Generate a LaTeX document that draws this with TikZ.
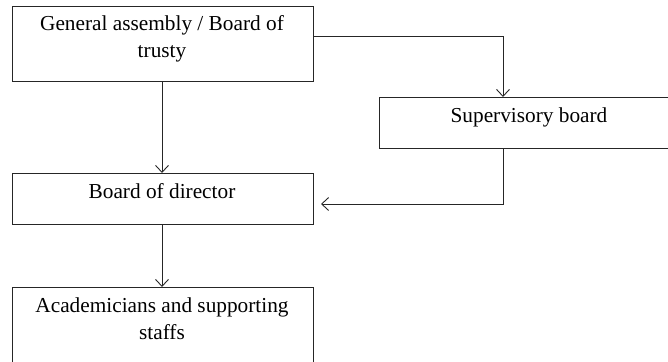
\documentclass[tikz,border=0pt]{standalone}
\usepackage{fontspec}
\setmainfont{Liberation Serif}
\usetikzlibrary{arrows.meta}
\begin{document}
\begin{tikzpicture}[x=1pt,y=-1pt,
  boxstyle/.style={draw=black!85, line width=1pt, rectangle, inner sep=0pt},
  txt/.style={font=\fontsize{21.3}{26.5}\selectfont, inner sep=0pt, anchor=base, align=center},
  conn/.style={draw=black!85, line width=0.9pt, -{Straight Barb[length=7pt,width=13pt,line width=0.9pt]}}]
\useasboundingbox (0,0) rectangle (668,361);
\clip (0,0) rectangle (668,361);
% boxes
\node[boxstyle, minimum width=301pt, minimum height=75pt, anchor=north west] (ga) at (12,6) {};
\node[boxstyle, minimum width=300pt, minimum height=51pt, anchor=north west] (sb) at (379,97) {};
\node[boxstyle, minimum width=301pt, minimum height=51pt, anchor=north west] (bd) at (12,173) {};
\node[boxstyle, minimum width=301pt, minimum height=90pt, anchor=north west] (ac) at (12,287) {};
% texts (base anchor = baseline of last line)
\node[txt] (gat) at (162,57) {General assembly / Board of\\trusty};
\node[txt] (sbt) at (529,122) {Supervisory board};
\node[txt] (bdt) at (162,198) {Board of director};
\node[txt] (act) at (162,339) {Academicians and supporting\\staffs};
% connectors
\coordinate (c1) at (503,36);
\coordinate (c2) at (503,204);
\coordinate (bdin) at (321,204);
\draw[conn] (ga.south -| bdt) -- (bd.north -| bdt);
\draw[conn] (ga.east |- c1) -- (c1) -- (sb.north -| c1);
\draw[conn] (sb.south -| c2) -- (c2) -- (bdin);
\draw[conn] (bd.south -| bdt) -- (ac.north -| bdt);
\end{tikzpicture}
\end{document}
